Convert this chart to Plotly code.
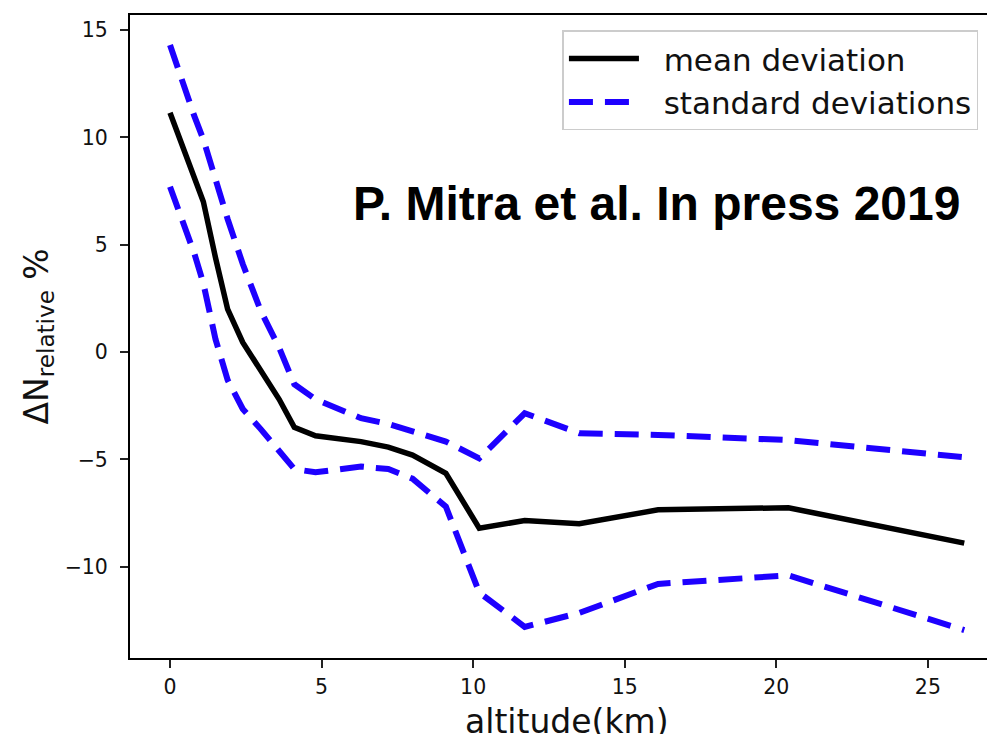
import plotly.graph_objects as go

# Altitude levels (km)
altitude = [0.0, 0.4, 0.8, 1.1, 1.5, 1.9, 2.4, 3.0, 3.6, 4.1, 4.8, 6.3, 7.2,
            8.0, 9.1, 10.2, 11.7, 13.5, 16.1, 20.4, 26.2]

# Mean relative deviation of N (%)
mean_dev = [11.15, 9.6, 8.2, 7.0, 4.4, 2.0, 0.45, -0.9, -2.2, -3.5, -3.9,
            -4.17, -4.43, -4.8, -5.65, -8.2, -7.85, -8.0, -7.35, -7.25, -8.9]

# Mean +/- one standard deviation (%)
std_upper = [14.3, 12.6, 11.0, 9.9, 8.0, 6.2, 4.1, 1.9, 0.2, -1.5, -2.2,
             -3.08, -3.35, -3.7, -4.17, -4.95, -2.85, -3.78, -3.86, -4.1, -4.9]
std_lower = [7.7, 6.2, 4.6, 3.2, 0.6, -1.3, -2.65, -3.6, -4.6, -5.45, -5.6,
             -5.33, -5.45, -5.9, -7.2, -11.2, -12.8, -12.15, -10.8, -10.4, -12.95]

x_ticks = [0, 5, 10, 15, 20, 25]
y_ticks = [-10, -5, 0, 5, 10, 15]

BLUE = "rgb(30,0,255)"
FONT = "DejaVu Sans"
GAP = "&nbsp;&nbsp;"  # spacing between legend symbol and label

fig = go.Figure()
fig.add_trace(go.Scatter(
    x=altitude, y=mean_dev, mode="lines", name=GAP + "mean deviation",
    line=dict(color="black", width=5.5),
))
fig.add_trace(go.Scatter(
    x=altitude, y=std_upper, mode="lines", name=GAP + "standard deviations",
    line=dict(color=BLUE, width=6, dash="24px,12px"),
))
fig.add_trace(go.Scatter(
    x=altitude, y=std_lower, mode="lines", name=GAP + "standard deviations",
    line=dict(color=BLUE, width=6, dash="24px,12px"), showlegend=False,
))

axis_common = dict(
    showgrid=False, zeroline=False, showline=True, linecolor="black",
    linewidth=2, ticks="outside", ticklen=8, tickwidth=2, tickcolor="#222",
    tickfont=dict(family=FONT, size=20.5, color="#111"),
)

fig.update_xaxes(range=[-1.32, 26.95], tickvals=x_ticks, mirror=True,
                 ticklabelstandoff=1, **axis_common)
fig.update_yaxes(range=[-14.25, 15.70], tickvals=y_ticks, mirror=False,
                 ticklabelstandoff=8, **axis_common)

fig.add_annotation(
    text="altitude(km)", xref="paper", yref="paper", x=0.51, y=0,
    xanchor="center", yanchor="top", yshift=-42, showarrow=False,
    font=dict(family=FONT, size=33, color="#111"),
)
fig.add_annotation(
    text="ΔN<sub>relative</sub> %", xref="paper", yref="paper", x=0, y=0.5,
    xanchor="center", yanchor="middle", xshift=-92, textangle=-90,
    showarrow=False, font=dict(family=FONT, size=33, color="#111"),
)
fig.add_annotation(
    text="<b>P. Mitra et al. In press 2019</b>", x=16.06, y=6.93,
    xref="x", yref="y", xanchor="center", yanchor="middle", showarrow=False,
    font=dict(family="Liberation Sans", size=48, color="black"),
)

fig.update_layout(
    width=987, height=734,
    margin=dict(l=130, r=0, t=15, b=76),
    paper_bgcolor="white", plot_bgcolor="white",
    showlegend=True,
    legend=dict(
        x=0.99, y=0.976, xanchor="right", yanchor="top",
        bgcolor="white", bordercolor="#cccccc", borderwidth=1.5,
        font=dict(family=FONT, size=31, color="#111"),
        itemwidth=70,
    ),
)

fig.write_html("out.html")
